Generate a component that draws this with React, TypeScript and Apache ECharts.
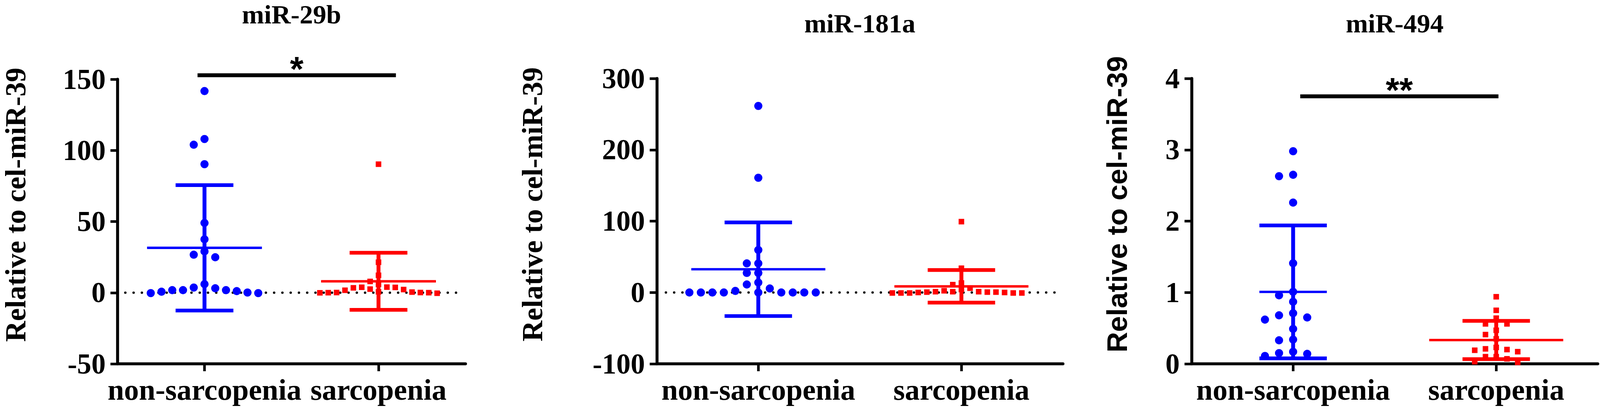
import React, { useEffect, useRef } from 'react';
import * as echarts from 'echarts';

// ---------------- data ----------------
const categories = ['non-sarcopenia', 'sarcopenia'];
const panelTitles = ['miR-29b', 'miR-181a', 'miR-494'];
const yAxisTitle = 'Relative to cel-miR-39';

const yMin = [-50, -100, 0];
const yMax = [150, 300, 4];
const yInterval = [50, 100, 1];

const mir29bNonSarcopenia = [141.7, 104, 108, 90.3, 49, 37.5, 26.7, 24.9, 29, 0.7, 6, 1.8, 3.6, -0.3, 3.1, 0.1, 1.1, -0.3, 1.8, 1.8];
const mir29bSarcopenia = [90.3, 21.4, 12.2, 3.9, 0, 3.4, 1.7, 2.5, 7.9, 3.7, -0.4, 2.2, 5.8, -0.1, 0.1, 3.8, 0.1, 0.4, 0.6, 0];

const mir181aNonSarcopenia = [261.5, 160.8, 59.6, 40.8, 40.8, 27.4, 27.4, 0, 11.2, 0, 5.6, 14, 0, 2.2, 0, 0, 0, 0, 0, 0];
const mir181aSarcopenia = [99.3, 34, 11, 0, 6, 1.1, 2.4, -0.7, 1.1, -0.7, 0, -0.7, 0.5, 13.3, 0.5, -0.7, -0.7, 0.5, 1.1, 4.2];

const mir494NonSarcopenia = [2.98, 2.63, 2.65, 2.26, 1.41, 0.96, 1.01, 0.87, 0.65, 0.62, 0.68, 0.71, 0.49, 0.33, 0.34, 0.11, 0.17, 0.14, 0.15];
const mir494Sarcopenia = [0.94, 0.75, 0.56, 0.64, 0.56, 0.47, 0.41, 0.35, 0.23, 0.19, 0.2, 0.17, 0.21, 0.1, 0.1, 0.03, 0.02, 0.07];

const panelGroups = [
  [mir29bNonSarcopenia, mir29bSarcopenia],
  [mir181aNonSarcopenia, mir181aSarcopenia],
  [mir494NonSarcopenia, mir494Sarcopenia],
];

// significance annotations: label, bar level (y value), bar span in category units
const sigLabels = ['*', '', '**'];
const sigLevel = [152.8, 0, 3.75];
const sigFrom = [-0.04, 0, 0.035];
const sigTo = [1.1, 0, 1.011];

// ---------------- styles / layout (in reference pixels, 4317 x 1058) ----------------
const REF_W = 4317;
const REF_H = 1058;
const SERIF = '"Liberation Serif", "Times New Roman", serif';
const SANS = '"Liberation Sans", Arial, sans-serif';
const BLUE = '#0000FF';
const RED = '#FF0000';
const BLACK = '#000000';

const LAYOUT = [
  { left: 317, width: 939, top: 203, height: 729, nameGap: 236, nameFont: SERIF, nameSize: 78, titleTop: 3, slotPx: [29, 22.6], meanHalf: [0.33, 0.33], zeroLine: true },
  { left: 1772, width: 1096, top: 201, height: 731, nameGap: 296, nameFont: SERIF, nameSize: 78, titleTop: 26, slotPx: [31, 23.3], meanHalf: [0.33, 0.33], zeroLine: true },
  { left: 3215, width: 1096, top: 201, height: 731, nameGap: 163, nameFont: SANS, nameSize: 77, titleTop: 26, slotPx: [38, 29], meanHalf: [0.166, 0.33], zeroLine: false },
];
const CAP_HALF = 0.166;
const COLORS = [BLUE, RED];
const SYMBOLS = ['circle', 'rect'];
const SIZES = [22, 15];

const mean = (a: number[]) => a.reduce((s, v) => s + v, 0) / a.length;
const sd = (a: number[]) => {
  const m = mean(a);
  return Math.sqrt(a.reduce((s, v) => s + (v - m) * (v - m), 0) / (a.length - 1));
};

// grid-based beeswarm: each point takes the slot nearest the centre that does not collide
function swarm(values: number[], group: number, ppu: number, slotUnits: number, sizePx: number) {
  const thr = sizePx * 1.1;
  const order = values.map((_, i) => i).sort((a, b) => values[b] - values[a] || a - b);
  const placed: { slot: number; v: number }[] = [];
  const out: number[][] = new Array(values.length);
  for (const i of order) {
    const v = values[i];
    for (let k = 0; k < 200; k++) {
      const slot = k === 0 ? 0 : k % 2 === 1 ? -(k + 1) / 2 : k / 2;
      if (!placed.some((p) => p.slot === slot && Math.abs(p.v - v) * ppu < thr)) {
        placed.push({ slot, v });
        out[i] = [group + slot * slotUnits, v];
        break;
      }
    }
  }
  return out;
}

function buildOption(W: number, H: number) {
  const kx = W / REF_W;
  const ky = H / REF_H;
  const k = Math.min(kx, ky);
  const grid: any[] = [];
  const xAxis: any[] = [];
  const yAxis: any[] = [];
  const series: any[] = [];
  const title: any[] = [];

  LAYOUT.forEach((L, p) => {
    grid.push({ left: L.left * kx, top: L.top * ky, width: L.width * kx, height: L.height * ky, containLabel: false });
    const unitPx = L.width / 2;
    const ppu = L.height / (yMax[p] - yMin[p]);

    title.push({
      text: panelTitles[p],
      left: (L.left + L.width / 2) * kx,
      top: L.titleTop * ky,
      textAlign: 'center',
      padding: 0,
      textStyle: { fontFamily: SERIF, fontWeight: 'bold', fontSize: 72 * k, color: BLACK },
    });

    xAxis.push({
      type: 'category',
      gridIndex: p,
      data: categories,
      boundaryGap: true,
      axisLine: { show: true, onZero: false, lineStyle: { color: BLACK, width: 8 * k } },
      axisTick: { show: true, alignWithLabel: true, length: 20 * k, lineStyle: { color: BLACK, width: 7 * k } },
      axisLabel: { interval: 0, margin: 30 * k, fontFamily: SERIF, fontWeight: 'bold', fontSize: 80 * k, color: BLACK },
      splitLine: { show: false },
    });
    xAxis.push({ type: 'value', gridIndex: p, min: -0.5, max: 1.5, show: false });

    yAxis.push({
      type: 'value',
      gridIndex: p,
      min: yMin[p],
      max: yMax[p],
      interval: yInterval[p],
      axisLine: { show: true, onZero: false, lineStyle: { color: BLACK, width: 8 * k } },
      axisTick: { show: true, length: 19 * k, lineStyle: { color: BLACK, width: 7 * k } },
      axisLabel: { margin: 32 * k, fontFamily: SERIF, fontWeight: 'bold', fontSize: 77 * k, color: BLACK },
      splitLine: { show: false },
      name: yAxisTitle,
      nameLocation: 'middle',
      nameRotate: 90,
      nameGap: L.nameGap * kx,
      nameTextStyle: { fontFamily: L.nameFont, fontWeight: 'bold', fontSize: L.nameSize * k, color: BLACK, padding: [0, 0, 0, 86 * ky] },
    });

    const vx = p * 2 + 1;

    if (L.zeroLine) {
      series.push({
        type: 'line',
        xAxisIndex: vx,
        yAxisIndex: p,
        data: [[-0.455, 0], [1.47, 0]],
        showSymbol: false,
        symbol: 'none',
        silent: true,
        z: 1,
        lineStyle: { color: BLACK, width: 6.5 * k, type: [0.1, 22.2 * k], cap: 'round' },
      });
    }

    panelGroups[p].forEach((vals, g) => {
      series.push({
        type: 'scatter',
        xAxisIndex: vx,
        yAxisIndex: p,
        data: swarm(vals, g, ppu, L.slotPx[g] / unitPx, SIZES[g]),
        symbol: SYMBOLS[g],
        symbolSize: SIZES[g] * k,
        itemStyle: { color: COLORS[g], opacity: 1 },
        z: 2,
        silent: true,
      });
      const color = COLORS[g];
      const meanHalf = L.meanHalf[g];
      series.push({
        type: 'custom',
        xAxisIndex: vx,
        yAxisIndex: p,
        z: 3,
        silent: true,
        clip: false,
        data: [[g, mean(vals), sd(vals)]],
        renderItem: (params: any, api: any) => {
          const x = api.value(0);
          const m = api.value(1);
          const s = api.value(2);
          const t = api.coord([x, m + s]);
          const b = api.coord([x, m - s]);
          const tl = api.coord([x - CAP_HALF, m + s]);
          const tr = api.coord([x + CAP_HALF, m + s]);
          const bl = api.coord([x - CAP_HALF, m - s]);
          const br = api.coord([x + CAP_HALF, m - s]);
          const ml = api.coord([x - meanHalf, m]);
          const mr = api.coord([x + meanHalf, m]);
          return {
            type: 'group',
            children: [
              { type: 'line', shape: { x1: t[0], y1: t[1], x2: b[0], y2: b[1] }, style: { stroke: color, lineWidth: 10.5 * k } },
              { type: 'line', shape: { x1: tl[0], y1: tl[1], x2: tr[0], y2: tr[1] }, style: { stroke: color, lineWidth: 10 * k } },
              { type: 'line', shape: { x1: bl[0], y1: bl[1], x2: br[0], y2: br[1] }, style: { stroke: color, lineWidth: 10 * k } },
              { type: 'line', shape: { x1: ml[0], y1: ml[1], x2: mr[0], y2: mr[1] }, style: { stroke: color, lineWidth: 6.5 * k } },
            ],
          };
        },
      });
    });

    if (sigLabels[p]) {
      const label = sigLabels[p];
      series.push({
        type: 'custom',
        xAxisIndex: vx,
        yAxisIndex: p,
        z: 4,
        silent: true,
        clip: false,
        data: [[sigFrom[p], sigTo[p], sigLevel[p]]],
        renderItem: (params: any, api: any) => {
          const a = api.coord([api.value(0), api.value(2)]);
          const b = api.coord([api.value(1), api.value(2)]);
          return {
            type: 'group',
            children: [
              { type: 'line', shape: { x1: a[0], y1: a[1], x2: b[0], y2: b[1] }, style: { stroke: BLACK, lineWidth: 10.5 * k } },
              {
                type: 'text',
                style: {
                  text: label,
                  x: (a[0] + b[0]) / 2,
                  y: a[1] - 18 * k,
                  align: 'center',
                  verticalAlign: 'middle',
                  fontFamily: SANS,
                  fontWeight: 'bold',
                  fontSize: 94 * k,
                  fill: BLACK,
                },
              },
            ],
          };
        },
      });
    }
  });

  return {
    animation: false,
    backgroundColor: '#ffffff',
    title,
    grid,
    xAxis,
    yAxis,
    series,
  };
}

export default function App() {
  const ref = useRef<HTMLDivElement>(null);
  const W = typeof window !== 'undefined' && window.innerWidth ? window.innerWidth : REF_W;
  const H = typeof window !== 'undefined' && window.innerHeight ? window.innerHeight : REF_H;
  useEffect(() => {
    document.body.style.margin = '0';
    document.body.style.overflow = 'hidden';
    const chart = echarts.init(ref.current as HTMLDivElement, null, { renderer: 'svg', width: W, height: H });
    chart.setOption(buildOption(W, H) as any);
    return () => chart.dispose();
  }, []);
  return <div ref={ref} style={{ width: W, height: H, overflow: 'hidden' }} />;
}
